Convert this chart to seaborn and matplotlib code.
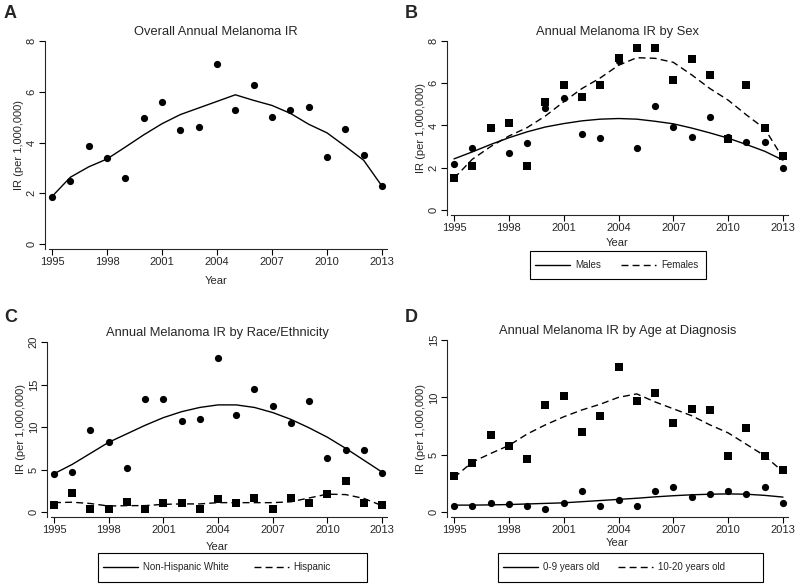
import numpy as np
import pandas as pd
import matplotlib
matplotlib.use("Agg")
import matplotlib.pyplot as plt
from matplotlib.patches import Rectangle
import seaborn as sns

# %% data
years = list(range(1995, 2014))
year_ticks = [1995, 1998, 2001, 2004, 2007, 2010, 2013]

overall_ir = [1.87, 2.50, 3.87, 3.37, 2.62, 4.96, 5.60, 4.50, 4.62, 7.08,
              5.28, 6.25, 4.99, 5.28, 5.39, 3.41, 4.53, 3.52, 2.27]
overall_fit = [1.87, 2.63, 3.04, 3.35, 3.82, 4.30, 4.74, 5.10, 5.36, 5.62,
               5.88, 5.66, 5.46, 5.15, 4.72, 4.38, 3.85, 3.30, 2.28]

male_ir = [2.20, 2.93, 3.87, 2.68, 3.16, 4.83, 5.32, 3.62, 3.40, 7.04,
           2.94, 4.91, 3.94, 3.45, 4.41, 3.45, 3.21, 3.21, 1.98]
male_fit = [2.42, 2.75, 3.10, 3.42, 3.70, 3.93, 4.09, 4.22, 4.30, 4.33,
            4.30, 4.20, 4.08, 3.88, 3.65, 3.40, 3.10, 2.78, 2.36]
female_ir = [1.53, 2.08, 3.87, 4.10, 2.08, 5.12, 5.90, 5.37, 5.90, 7.20,
             7.67, 7.67, 6.14, 7.15, 6.41, 3.34, 5.90, 3.87, 2.57]
female_fit = [1.50, 2.40, 3.00, 3.50, 3.90, 4.45, 5.12, 5.75, 6.25, 6.85,
              7.21, 7.18, 6.99, 6.40, 5.75, 5.20, 4.50, 3.85, 2.45]

nhw_ir = [4.52, 4.75, 9.60, 8.25, 5.20, 13.3, 13.3, 10.65, 10.96, 18.1,
          11.43, 14.5, 12.45, 10.45, 13.1, 6.30, 7.35, 7.35, 4.55]
nhw_fit = [4.5, 5.6, 6.9, 8.2, 9.2, 10.2, 11.1, 11.8, 12.3, 12.6,
           12.6, 12.3, 11.7, 10.9, 9.9, 8.8, 7.5, 6.1, 4.7]
hisp_ir = [0.80, 2.25, 0.40, 0.40, 1.15, 0.40, 1.10, 1.10, 0.40, 1.50,
           1.10, 1.65, 0.30, 1.65, 1.10, 2.15, 3.70, 1.10, 0.85]
hisp_fit = [1.10, 1.15, 1.00, 0.70, 0.75, 0.75, 0.90, 0.95, 0.95, 1.10,
            1.10, 1.10, 1.10, 1.20, 1.65, 2.10, 2.05, 1.60, 0.75]

age09_ir = [0.53, 0.53, 0.82, 0.70, 0.53, 0.26, 0.82, 1.85, 0.53, 1.05,
            0.53, 1.85, 2.14, 1.32, 1.55, 1.82, 1.55, 2.14, 0.82]
age09_fit = [0.60, 0.60, 0.62, 0.65, 0.70, 0.75, 0.80, 0.90, 1.00, 1.10,
             1.20, 1.32, 1.42, 1.50, 1.55, 1.58, 1.55, 1.45, 1.30]
age1020_ir = [3.14, 4.30, 6.70, 5.78, 4.60, 9.36, 10.1, 6.95, 8.40, 12.67,
              9.68, 10.4, 7.74, 8.94, 8.90, 4.90, 7.30, 4.90, 3.64]
age1020_fit = [3.0, 4.35, 5.1, 5.8, 6.8, 7.6, 8.3, 8.9, 9.4, 10.0,
               10.3, 9.6, 9.0, 8.4, 7.6, 6.9, 5.9, 4.9, 3.5]

# %% style
sns.set_theme(style="ticks")
plt.rcParams['font.family'] = ['Liberation Sans', 'DejaVu Sans']
plt.rcParams['axes.linewidth'] = 0.8

W, H = 800, 587
fig = plt.figure(figsize=(8, 5.87), dpi=100)
fig.patch.set_facecolor('white')

DASH = (0, (5, 3))


def make_axes(p95, p13, py0, pyt, ymax):
    # pixel positions -> axes with limits matched to the reference
    sx = (p13 - p95) / 18
    sy = (py0 - pyt) / ymax
    left, right = p95 - 7, p13 + 5
    top, bottom = pyt, py0 + 5
    ax = fig.add_axes([left / W, (H - bottom) / H, (right - left) / W, (bottom - top) / H])
    ax.set_xlim(1995 - 7 / sx, 2013 + 5 / sx)
    ax.set_ylim(-5 / sy, ymax)
    ax.spines['bottom'].set_bounds(1995 - 3 / sx, 2013 + 5 / sx)
    return ax


def style(ax, title, yticks, xpad):
    ax.set_title(title, fontsize=9.3, pad=4)
    ax.set_xticks(year_ticks)
    ax.set_yticks(yticks)
    ax.set_yticklabels([str(t) for t in yticks], rotation=90, va='center')
    ax.tick_params(axis='both', direction='out', length=4, width=0.8,
                   labelsize=8, color='black', pad=2)
    ax.set_xlabel('Year', fontsize=8, labelpad=xpad)
    ax.set_ylabel('IR (per 1,000,000)', fontsize=8, labelpad=2)
    sns.despine(ax=ax)
    ax.set_facecolor('white')


def add_series(ax, ir, fit, marker, ls, label=None):
    sns.scatterplot(x=years, y=ir, marker=marker, s=27, color='black',
                    linewidth=0, legend=False, ax=ax, clip_on=False, zorder=3)
    sns.lineplot(x=years, y=fit, color='black', linewidth=1.0, linestyle=ls,
                 label=label, ax=ax, clip_on=False)


def add_legend(ax, x0, x1, y0, y1, colsp):
    # box drawn separately, entries packed from the left like the original
    fig.add_artist(Rectangle((x0 / W, (H - y1) / H), (x1 - x0) / W, (y1 - y0) / H,
                             transform=fig.transFigure, fill=False,
                             edgecolor='black', linewidth=0.8))
    ax.legend(loc='center left', ncol=2,
              bbox_to_anchor=((x0 + 3) / W, (H - (y0 + y1) / 2) / H),
              bbox_transform=fig.transFigure, fontsize=7, frameon=False,
              handlelength=3.6, handletextpad=0.5, columnspacing=colsp,
              borderaxespad=0, borderpad=0.2)


# A
axA = make_axes(52, 382, 244, 41, 8)
add_series(axA, overall_ir, overall_fit, 'o', '-')
style(axA, 'Overall Annual Melanoma IR', [0, 2, 4, 6, 8], 6)

# B
axB = make_axes(454, 783, 210, 41, 8)
add_series(axB, male_ir, male_fit, 'o', '-', 'Males')
add_series(axB, female_ir, female_fit, 's', DASH, 'Females')
style(axB, 'Annual Melanoma IR by Sex', [0, 2, 4, 6, 8], 3)
add_legend(axB, 530, 706, 251, 279, 2.1)

# C
axC = make_axes(54, 382, 512, 342, 20)
add_series(axC, nhw_ir, nhw_fit, 'o', '-', 'Non-Hispanic White')
add_series(axC, hisp_ir, hisp_fit, 's', DASH, 'Hispanic')
style(axC, 'Annual Melanoma IR by Race/Ethnicity', [0, 5, 10, 15, 20], 5)
add_legend(axC, 98, 367, 553, 582, 2.6)

# D
axD = make_axes(454, 783, 512, 340, 15)
add_series(axD, age09_ir, age09_fit, 'o', '-', '0-9 years old')
add_series(axD, age1020_ir, age1020_fit, 's', DASH, '10-20 years old')
style(axD, 'Annual Melanoma IR by Age at Diagnosis', [0, 5, 10, 15], 2)
add_legend(axD, 498, 763, 553, 582, 1.9)

# panel letters
for letter, (px, py) in zip('ABCD', [(4, 13), (405, 13), (4, 318), (405, 318)]):
    fig.text(px / W, 1 - py / H, letter, fontsize=13, fontweight='bold',
             va='center', ha='left')

fig.savefig('out.png', dpi=100, facecolor='white')
